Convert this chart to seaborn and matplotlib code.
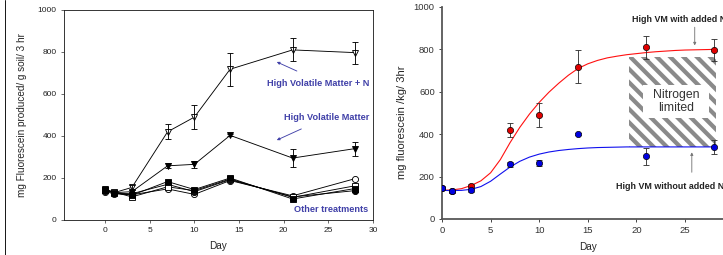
import pandas as pd
import seaborn as sns
import matplotlib.pyplot as plt
from matplotlib.patches import Rectangle
from matplotlib.lines import Line2D

# sampling days
days = [0, 1, 3, 7, 10, 14, 21, 28]

# high volatile matter + N / high volatile matter (mean, error)
hvm_n = [145, 130, 155, 420, 490, 718, 810, 797]
hvm_n_err = [8, 5, 10, 35, 58, 78, 55, 52]
hvm = [148, 130, 135, 258, 265, 403, 295, 340]
hvm_err = [8, 5, 8, 12, 15, 5, 42, 33]

# other treatments
other_open_circle = [135, 125, 120, 148, 122, 188, 115, 197]
other_filled_circle = [140, 128, 125, 170, 135, 192, 110, 140]
other_open_square = [145, 133, 110, 158, 140, 195, 108, 163]
other_filled_square = [143, 130, 118, 183, 145, 200, 100, 150]

# fitted curves (at each day)
curve_days = list(range(29))
red_curve = [135, 137, 143, 158, 180, 218, 280, 360, 432, 495, 550, 598, 640,
             678, 710, 732, 748, 760, 768, 775, 780, 785, 789, 792, 795, 797,
             798, 799, 800]
blue_curve = [135, 134, 135, 140, 153, 178, 212, 245, 272, 292, 306, 316, 323,
              328, 332, 335, 337, 338, 339, 340, 340, 340, 340, 340, 340, 340,
              340, 340, 340]

sns.set_style("ticks")
plt.rcParams['font.family'] = ['Liberation Sans', 'DejaVu Sans']
plt.rcParams['hatch.linewidth'] = 3.8

fig = plt.figure(figsize=(723 / 80, 255 / 80), dpi=80)
fig.add_artist(Line2D([5 / 723, 5 / 723], [0, 1], color='black', lw=0.8))

# ---------------- left panel ----------------
ax1 = fig.add_axes([64 / 723, 1 - 220 / 255, 309 / 723, 210 / 255])

series = [
    (hvm_n, dict(marker='v', mfc='white')),
    (hvm, dict(marker='v', mfc='black')),
    (other_open_circle, dict(marker='o', mfc='white')),
    (other_filled_circle, dict(marker='o', mfc='black')),
    (other_open_square, dict(marker='s', mfc='white')),
    (other_filled_square, dict(marker='s', mfc='black')),
]
for vals, st in series:
    df = pd.DataFrame({'Day': days, 'val': vals})
    sns.lineplot(data=df, x='Day', y='val', ax=ax1, color='black', lw=0.8,
                 marker=st['marker'], markerfacecolor=st['mfc'],
                 markeredgecolor='black', markersize=5.5, markeredgewidth=0.8)

ax1.errorbar(days, hvm_n, yerr=hvm_n_err, fmt='none', ecolor='black',
             elinewidth=0.8, capsize=3, capthick=0.8)
ax1.errorbar(days, hvm, yerr=hvm_err, fmt='none', ecolor='black',
             elinewidth=0.8, capsize=3, capthick=0.8)

ax1.set_xlim(-4.6, 30)
ax1.set_ylim(0, 1000)
ax1.set_xticks([0, 5, 10, 15, 20, 25, 30])
ax1.set_yticks([0, 200, 400, 600, 800, 1000])
ax1.tick_params(labelsize=7.5, length=3, width=0.6, colors='#222')
for s in ax1.spines.values():
    s.set_linewidth(0.8)
    s.set_color('#222')
ax1.set_xlabel('Day', fontsize=9, labelpad=6)
ax1.set_ylabel('mg Fluorescein produced/ g soil/ 3 hr', fontsize=9)
ax1.yaxis.set_label_coords(-0.12, 0.5)

lab = '#4040a8'
ax1.annotate('', xy=(19.0, 757), xytext=(21.7, 705),
             arrowprops=dict(arrowstyle='-|>', color=lab, lw=0.8, mutation_scale=5))
ax1.annotate('', xy=(19.0, 376), xytext=(22.2, 438),
             arrowprops=dict(arrowstyle='-|>', color=lab, lw=0.8, mutation_scale=5))
ax1.text(29.6, 648, 'High Volatile Matter + N', color=lab, fontsize=8.2,
         fontweight='bold', ha='right', va='center')
ax1.text(29.6, 490, 'High Volatile Matter', color=lab, fontsize=8.2,
         fontweight='bold', ha='right', va='center')
ax1.text(29.4, 52, 'Other treatments', color=lab, fontsize=8.2,
         fontweight='bold', ha='right', va='center')

# ---------------- right panel ----------------
ax2 = fig.add_axes([442 / 723, 1 - 219 / 255, 291.6 / 723, 212 / 255])

ax2.add_patch(Rectangle((19.2, 340), 9.0, 425, facecolor='white',
                        edgecolor='#8a8a8a', hatch='\\\\', linewidth=0, zorder=1))
ax2.add_patch(Rectangle((20.7, 476), 6.8, 156, facecolor='white',
                        edgecolor='none', zorder=1.5))
ax2.text(24.1, 554, 'Nitrogen\nlimited', ha='center', va='center',
         fontsize=11, color='#333', linespacing=1.1, zorder=2)

cdf = pd.DataFrame({'Day': curve_days, 'red': red_curve, 'blue': blue_curve})
sns.lineplot(data=cdf, x='Day', y='red', ax=ax2, color='#ff1010', lw=1.0, zorder=3)
sns.lineplot(data=cdf, x='Day', y='blue', ax=ax2, color='#1010ee', lw=1.0, zorder=3)

ax2.errorbar(days, hvm_n, yerr=hvm_n_err, fmt='none', ecolor='#333',
             elinewidth=0.8, capsize=3, capthick=0.8, zorder=4)
ax2.errorbar(days, hvm, yerr=hvm_err, fmt='none', ecolor='#333',
             elinewidth=0.8, capsize=3, capthick=0.8, zorder=4)
pdf = pd.DataFrame({'Day': days, 'red': hvm_n, 'blue': hvm})
sns.scatterplot(data=pdf, x='Day', y='red', ax=ax2, color='#e00000',
                edgecolor='black', linewidth=0.6, s=32, zorder=5)
sns.scatterplot(data=pdf, x='Day', y='blue', ax=ax2, color='#0000e0',
                edgecolor='black', linewidth=0.6, s=32, zorder=5)

ax2.set_xlim(0, 30)
ax2.set_ylim(0, 1000)
ax2.set_xticks([0, 5, 10, 15, 20, 25])
ax2.set_yticks([0, 200, 400, 600, 800, 1000])
ax2.tick_params(labelsize=8.5, length=3, width=0.8, colors='#333')
sns.despine(ax=ax2)
for s in ['left', 'bottom']:
    ax2.spines[s].set_linewidth(1.6)
    ax2.spines[s].set_color('#555')
ax2.set_xlabel('Day', fontsize=9, labelpad=6)
ax2.set_ylabel('mg fluorescein /kg/ 3hr', fontsize=10)
ax2.yaxis.set_label_coords(-0.12, 0.455)

ax2.annotate('', xy=(26.0, 808), xytext=(26.0, 915),
             arrowprops=dict(arrowstyle='-|>', color='#777', lw=0.8, mutation_scale=5))
ax2.text(19.5, 940, 'High VM with added N', fontsize=8.0, fontweight='bold',
         color='#222', ha='left', va='center')
ax2.annotate('', xy=(25.7, 325), xytext=(25.7, 210),
             arrowprops=dict(arrowstyle='-|>', color='#777', lw=0.8, mutation_scale=5))
ax2.text(17.9, 152, 'High VM without added N', fontsize=8.0, fontweight='bold',
         color='#222', ha='left', va='center')

fig.savefig('out.png', dpi=80)
